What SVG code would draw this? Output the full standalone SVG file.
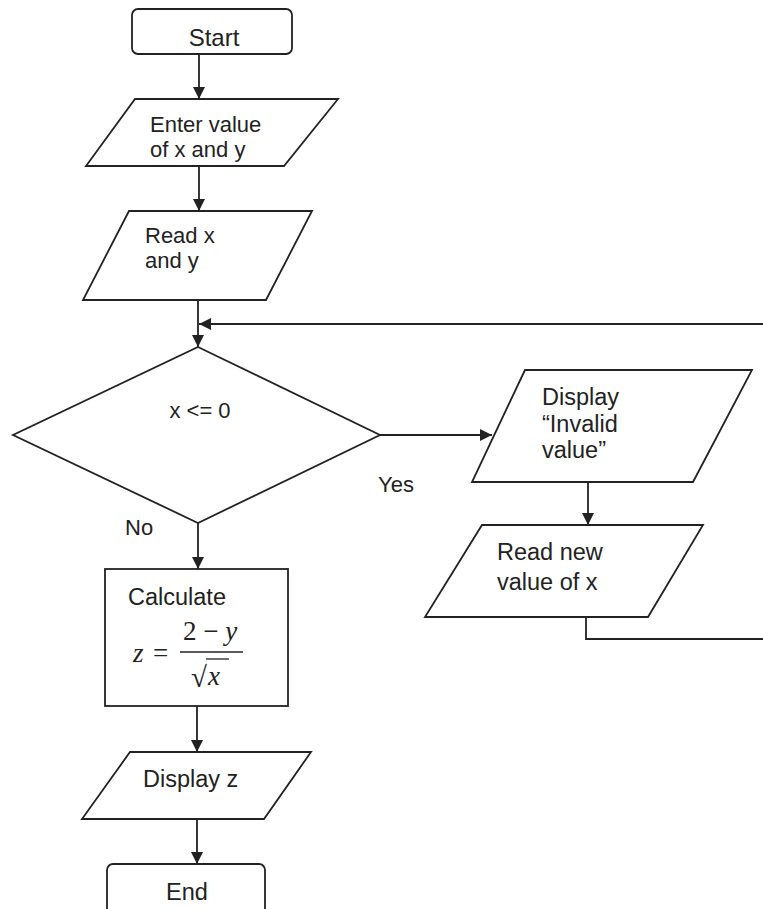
<svg xmlns="http://www.w3.org/2000/svg" width="763" height="909" viewBox="0 0 763 909">
<style>
.shape{fill:#fff;stroke:#222;stroke-width:1.8;stroke-linejoin:miter}
.conn{fill:none;stroke:#222;stroke-width:1.8}
.t{font-family:"Liberation Sans",Arial,sans-serif;font-size:22px;fill:#222}
.b{font-size:23.5px}
.m{font-family:"Liberation Serif","Times New Roman",serif;font-size:27px;fill:#222}
.mi{font-style:italic}
</style>
<defs>
<marker id="ah" markerUnits="userSpaceOnUse" markerWidth="14" markerHeight="14" refX="12" refY="6" orient="auto">
<path d="M0,0 L12,6 L0,12 z" fill="#222"/>
</marker>
</defs>
<rect width="763" height="909" fill="#fff"/>
<g id="connectors">
<line class="conn" x1="199" y1="54" x2="199" y2="99" marker-end="url(#ah)"/>
<line class="conn" x1="199" y1="166" x2="199" y2="211" marker-end="url(#ah)"/>
<line class="conn" x1="198" y1="300" x2="198" y2="347" marker-end="url(#ah)"/>
<line class="conn" x1="763" y1="324" x2="199" y2="324" marker-end="url(#ah)"/>
<line class="conn" x1="380" y1="435" x2="492" y2="435" marker-end="url(#ah)"/>
<line class="conn" x1="588" y1="482" x2="588" y2="525" marker-end="url(#ah)"/>
<polyline class="conn" points="586,617 586,639 763,639"/>
<line class="conn" x1="198" y1="523" x2="198" y2="569" marker-end="url(#ah)"/>
<line class="conn" x1="197" y1="706" x2="197" y2="752" marker-end="url(#ah)"/>
<line class="conn" x1="197" y1="819" x2="197" y2="864" marker-end="url(#ah)"/>
<text class="t" x="378" y="492">Yes</text>
<text class="t" x="125" y="535">No</text>
</g>
<g id="start">
<rect class="shape" x="132" y="9" width="160" height="45" rx="6"/>
<text class="t" x="214" y="46" text-anchor="middle" style="font-size:24px">Start</text>
</g>
<g id="enter">
<polygon class="shape" points="135,99 338,99 284,166 86,166"/>
<text class="t" x="150" y="132">Enter value</text>
<text class="t" x="150" y="157">of x and y</text>
</g>
<g id="read">
<polygon class="shape" points="129,211 312,211 266,300 83,300"/>
<text class="t" x="145" y="243">Read x</text>
<text class="t" x="145" y="268">and y</text>
</g>
<g id="decision">
<polygon class="shape" points="198,347 380,435 198,523 13,435"/>
<text class="t" x="200" y="418" text-anchor="middle">x &lt;= 0</text>
</g>
<g id="display-invalid">
<polygon class="shape" points="525,370 752,370 693,482 472,482"/>
<text class="t b" x="542" y="405">Display</text>
<text class="t b" x="542" y="432">“Invalid</text>
<text class="t b" x="542" y="458">value”</text>
</g>
<g id="read-new">
<polygon class="shape" points="482,525 703,525 648,617 425,617"/>
<text class="t b" x="497" y="560">Read new</text>
<text class="t b" x="497" y="590">value of x</text>
</g>
<g id="calculate">
<rect class="shape" x="105" y="569" width="183" height="137"/>
<text class="t b" x="128" y="605">Calculate</text>
<text class="m mi" x="133" y="662">z</text>
<text class="m" x="153" y="662">=</text>
<line x1="180" y1="652" x2="243" y2="652" stroke="#222" stroke-width="1.5"/>
<text class="m" x="183" y="640">2 − <tspan class="mi">y</tspan></text>
<text class="m" x="191" y="687" style="font-size:29px">√</text>
<line x1="206" y1="659" x2="229" y2="659" stroke="#222" stroke-width="1.3"/>
<text class="m mi" x="208" y="685">x</text>
</g>
<g id="display-z">
<polygon class="shape" points="130,752 311,752 264,819 82,819"/>
<text class="t b" x="143" y="787">Display z</text>
</g>
<g id="end">
<rect class="shape" x="107" y="864" width="158" height="52" rx="6"/>
<text class="t b" x="187" y="900" text-anchor="middle">End</text>
</g>
</svg>
